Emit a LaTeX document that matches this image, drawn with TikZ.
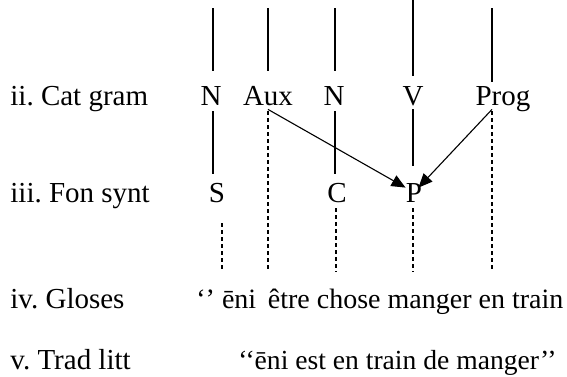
\documentclass[tikz,border=0pt]{standalone}
\usepackage{fontspec}
\setmainfont{Liberation Serif}
\usetikzlibrary{arrows.meta}

\begin{document}
\frenchspacing
\begin{tikzpicture}[
    x=0.5pt, y=-0.5pt,
    font=\fontsize{14.5pt}{16pt}\selectfont,
    lab/.style={anchor=base west,inner sep=0pt},
    line/.style={lab,font=\fontsize{14pt}{16pt}\selectfont},
    word/.style={anchor=base,inner sep=0pt,text height=0.7em,text depth=0.2em},
    stem/.style={line width=0.55pt},
    tie/.style={line width=0.6pt,dash pattern=on 2pt off 1.5pt},
    arrow/.style={-{Triangle[length=7pt,width=6pt]},line width=0.55pt}
]
\useasboundingbox (0,0) rectangle (567,376);

%--- Row labels ---%
\node[lab] (cat) at (10,105) {ii. Cat gram};
\node[lab] (fon) at (10,202) {iii. Fon synt};
\node[lab] (glo) at (10,308) {iv. Gloses};
\node[lab] (trad) at (10,369) {v. Trad litt};

%--- Grammatical categories ---%
\node[word] (catN1) at (211,105) {N};
\node[word] (catAux) at (268,105) {Aux};
\node[word] (catN2) at (334,105) {N};
\node[word] (catV) at (413,105) {V};
\node[word] (catProg) at (503,105) {Prog};

%--- Syntactic functions ---%
\node[word] (funS) at (217,202) {S};
\node[word] (funC) at (337,202) {C};
\node[word] (funP) at (414,202) {P};

%--- Glosses and literal translation ---%
\node[line] (gloss) at (196,308) {‘’ ēni\, être chose manger en train};
\node[line,font=\fontsize{13.8pt}{16pt}\selectfont] (lit) at (238,369) {‘‘ēni est en train de manger’’};

%--- Free ends of the stems ---%
\coordinate (tN1) at (213,8);
\coordinate (tAux) at (268,8);
\coordinate (tN2) at (335,8);
\coordinate (tV) at (413,0);
\coordinate (tProg) at (492,8);
\coordinate (bS) at (222,272);
\coordinate (bAux) at (268,272);
\coordinate (bC) at (336,272);
\coordinate (bP) at (413,272);
\coordinate (bProg) at (492,272);

%--- Stems above the categories ---%
\draw[stem,shorten >=10pt] (tN1) -- (tN1 |- catN1.north);
\draw[stem,shorten >=10pt] (tAux) -- (tAux |- catAux.north);
\draw[stem,shorten >=10pt] (tN2) -- (tN2 |- catN2.north);
\draw[stem,shorten >=7.5pt] (tV) -- (tV |- catV.north);
\draw[stem,shorten >=4.5pt] (tProg) -- (tProg |- catProg.north);

%--- Categories -> functions ---%
\draw[stem,shorten <=1pt,shorten >=7pt] (tN1 |- catN1.south) -- (tN1 |- funS.north);
\draw[stem,shorten <=1pt,shorten >=7pt] (tN2 |- catN2.south) -- (tN2 |- funC.north);
\draw[stem,shorten >=11pt] (tV |- catV.south) -- (tV |- funP.north);
\draw[tie,shorten <=1pt] (tAux |- catAux.south) -- (bAux);
\draw[tie,shorten <=1pt] (tProg |- catProg.south) -- (bProg);
\draw[arrow] (catAux.south) -- (funP.north west);
\draw[arrow] (tProg |- catProg.south) -- ([xshift=-2pt]funP.north east);

%--- Functions -> glosses ---%
\draw[tie,shorten <=8.5pt] (bS |- funS.south) -- (bS);
\draw[tie,shorten <=1pt] (bC |- funC.south) -- (bC);
\draw[tie,shorten <=1pt] (bP |- funP.south) -- (bP);

\end{tikzpicture}
\end{document}
